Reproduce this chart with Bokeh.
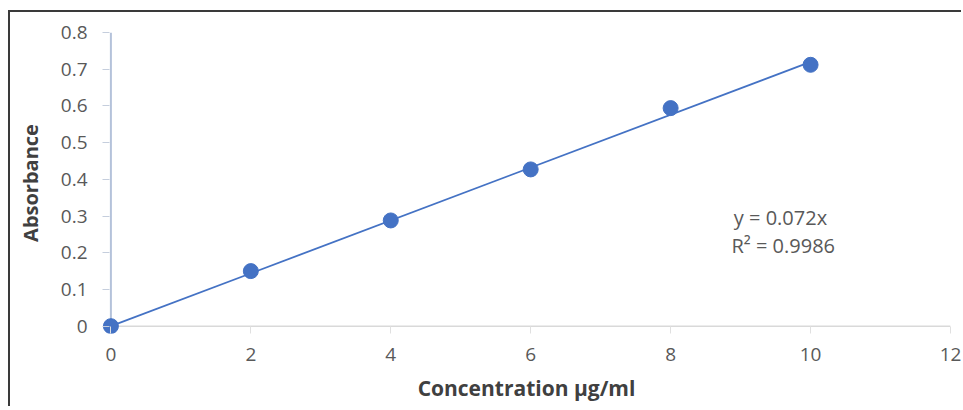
from bokeh.plotting import figure
from bokeh.models import Range1d, Label
from bokeh.embed import file_html
from bokeh.resources import INLINE

conc = [0, 2, 4, 6, 8, 10]
absorb = [0.0, 0.15, 0.288, 0.427, 0.594, 0.712]
slope = 0.072
fit_x = [0, 10]
fit_y = [slope * v for v in fit_x]
x_ticks = [0, 2, 4, 6, 8, 10, 12]
y_ticks = [0, 0.1, 0.2, 0.3, 0.4, 0.5, 0.6, 0.7, 0.8]
eq_text = "y = 0.072x"
r2_text = "R² = 0.9986"

blue = "#4472C4"
gray = "#595959"
font = "Open Sans"

# small padding so the markers at 0 are not cut by the frame
p = figure(width=953, height=396, output_backend="svg", toolbar_location=None,
           x_range=Range1d(-0.12, x_ticks[-1]), y_range=Range1d(-0.02, y_ticks[-1]),
           min_border_left=92, min_border_top=20, min_border_bottom=75, min_border_right=13)
p.styles = {"border-top": "2px solid #3a3a3a", "border-left": "2px solid #3a3a3a",
            "margin-top": "10px", "margin-left": "8px"}
p.outline_line_color = None
p.grid.visible = False
p.background_fill_color = "white"

# axis lines through the origin
p.line([x_ticks[0], x_ticks[0]], [y_ticks[0], y_ticks[-1]], line_color="#b4c2da", line_width=2)
p.line([x_ticks[0], x_ticks[-1]], [y_ticks[0], y_ticks[0]], line_color="#d9d9d9", line_width=1.5)

p.line(fit_x, fit_y, line_color=blue, line_width=1.8)
p.scatter(conc, absorb, size=15, fill_color=blue, line_color=blue)

p.xaxis.ticker = x_ticks
p.yaxis.ticker = y_ticks
p.yaxis.major_label_overrides = {0: "0"}

for ax in (p.xaxis, p.yaxis):
    ax.major_label_text_font = font
    ax.major_label_text_font_size = "19px"
    ax.major_label_text_color = gray
    ax.minor_tick_line_color = None
    ax.axis_line_color = None
    ax.major_tick_out = 0
    ax.major_tick_in = 7
    ax.axis_label_text_font = font
    ax.axis_label_text_font_style = "bold"
    ax.axis_label_text_font_size = "21px"
    ax.axis_label_text_color = "#404040"

p.yaxis.axis_label_text_font_size = "20px"
p.xaxis.major_tick_line_color = "#e0e0e0"
p.yaxis.major_tick_line_color = "#c5cedd"
p.xaxis.major_label_standoff = 14
p.yaxis.major_label_standoff = 15
p.xaxis.axis_label = "Concentration µg/ml"
p.yaxis.axis_label = "Absorbance"
p.xaxis.axis_label_standoff = 10
p.yaxis.axis_label_standoff = 14

p.add_layout(Label(x=9.57, y=0.295, text=eq_text, text_align="center", text_baseline="middle",
                   text_font=font, text_font_size="20px", text_color=gray))
p.add_layout(Label(x=9.61, y=0.220, text=r2_text, text_align="center", text_baseline="middle",
                   text_font=font, text_font_size="20px", text_color=gray))

open("out.html", "w").write(file_html(p, INLINE))
